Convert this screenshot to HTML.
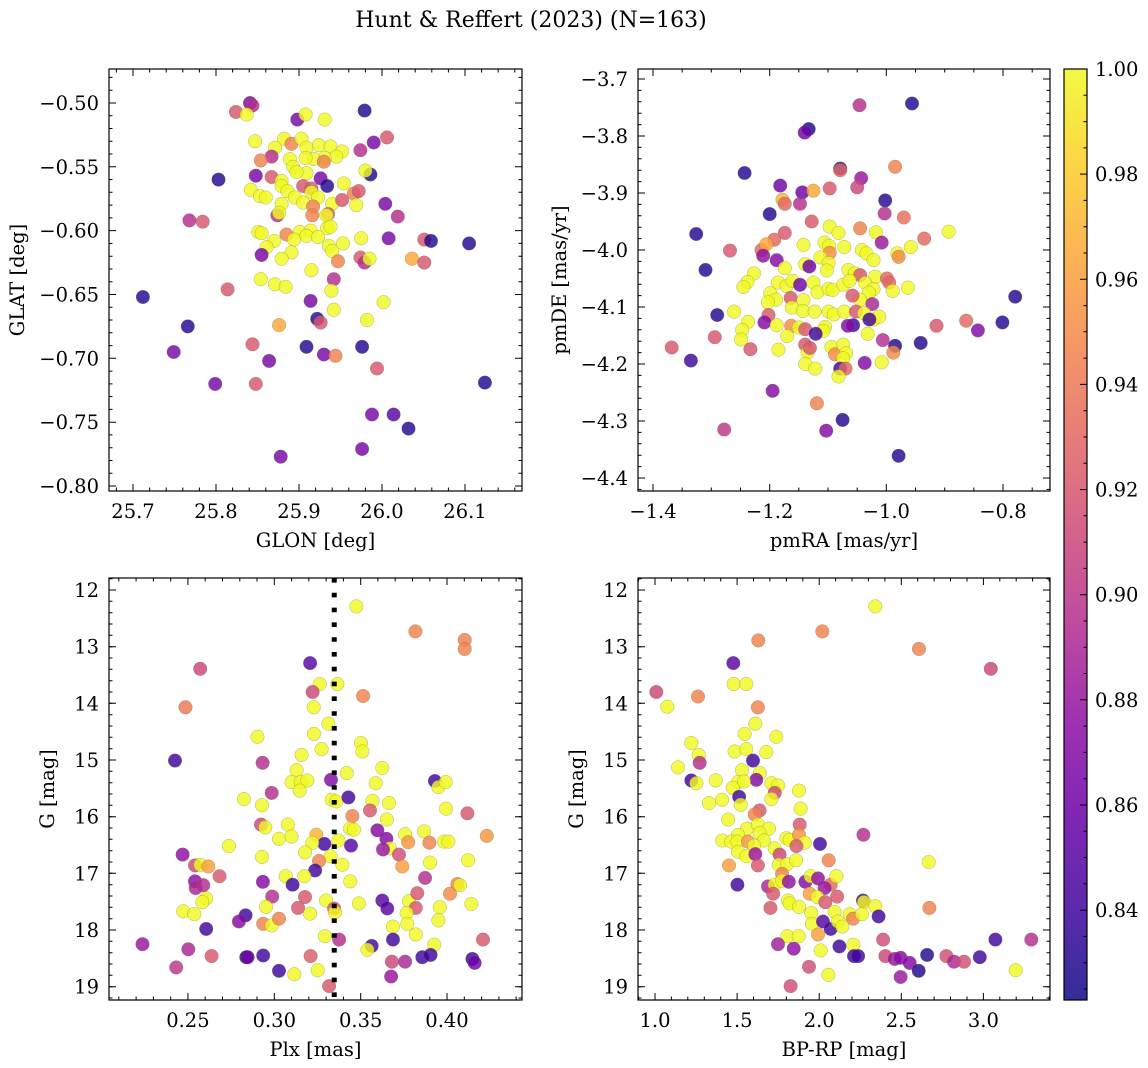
<!DOCTYPE html>
<html><head><meta charset="utf-8"><style>
html,body{margin:0;padding:0;background:#fff;}
svg{display:block;font-family:"DejaVu Serif","Liberation Serif",serif;}
</style></head><body>
<svg id="fig" width="1148" height="1068" viewBox="0 0 1148 1068" xmlns="http://www.w3.org/2000/svg">
<rect width="1148" height="1068" fill="#fff"/>
<text x="531" y="27" font-size="22" text-anchor="middle">Hunt &amp; Reffert (2023) (N=163)</text>
<defs><linearGradient id="plasma" x1="0" y1="1" x2="0" y2="0"></linearGradient></defs>
</svg>
<script>
// ---- Panel 1: GLON vs GLAT ----
const glon=[25.841,25.844,25.824,25.837,25.898,25.908,25.931,25.979,26.006,25.990,25.974,25.847,25.882,25.891,25.903,25.871,25.909,25.924,25.938,25.952,25.945,25.931,25.918,25.908,25.889,25.867,25.854,25.893,25.909,25.897,25.930,25.986,25.980,25.803,25.848,25.867,25.879,25.926,25.934,25.954,25.905,25.915,25.842,25.879,25.886,25.853,25.860,25.895,25.915,25.923,25.905,25.879,25.917,25.940,25.952,25.966,25.972,25.969,26.004,26.019,25.874,25.876,25.916,25.935,25.933,25.934,25.938,25.768,25.784,25.851,25.855,25.885,25.901,25.914,25.909,25.923,25.894,25.870,25.861,25.891,25.879,25.855,25.936,25.940,25.953,25.975,26.008,26.051,26.059,26.105,25.947,25.974,25.979,25.985,26.036,26.051,25.915,25.942,25.854,25.871,25.884,25.939,25.814,25.712,25.914,26.002,25.942,25.922,25.926,25.876,25.982,25.766,25.844,25.909,25.930,25.944,25.976,25.749,25.864,25.994,25.799,25.848,26.124,25.988,26.014,26.032,25.976,25.878];
const glat=[-0.500,-0.502,-0.507,-0.509,-0.513,-0.509,-0.513,-0.506,-0.527,-0.531,-0.537,-0.530,-0.528,-0.532,-0.528,-0.535,-0.535,-0.533,-0.534,-0.538,-0.542,-0.543,-0.544,-0.543,-0.544,-0.542,-0.545,-0.550,-0.555,-0.554,-0.546,-0.556,-0.553,-0.560,-0.557,-0.558,-0.561,-0.559,-0.565,-0.563,-0.565,-0.567,-0.568,-0.565,-0.569,-0.573,-0.574,-0.574,-0.570,-0.574,-0.578,-0.579,-0.581,-0.579,-0.576,-0.571,-0.569,-0.580,-0.579,-0.589,-0.588,-0.586,-0.588,-0.587,-0.588,-0.598,-0.597,-0.592,-0.593,-0.601,-0.602,-0.603,-0.601,-0.600,-0.604,-0.605,-0.607,-0.608,-0.613,-0.617,-0.622,-0.619,-0.612,-0.616,-0.610,-0.606,-0.606,-0.607,-0.608,-0.610,-0.624,-0.621,-0.625,-0.622,-0.622,-0.625,-0.631,-0.638,-0.638,-0.642,-0.644,-0.647,-0.646,-0.652,-0.655,-0.656,-0.662,-0.669,-0.672,-0.674,-0.670,-0.675,-0.689,-0.691,-0.697,-0.698,-0.691,-0.695,-0.702,-0.708,-0.720,-0.720,-0.719,-0.744,-0.744,-0.755,-0.771,-0.777];
const prob1=[.865,.895,.92,1,.865,1,1,.83,.92,.865,.895,1,1,.945,1,1,1,1,1,1,1,1,1,1,1,.895,.945,1,1,1,.945,.83,1,.83,.865,.92,1,.865,.83,1,.92,.92,1,1,1,1,1,1,1,1,1,1,.945,1,.92,.945,.92,1,.865,.895,.895,1,.945,.92,1,1,1,.895,.92,1,1,.945,1,1,1,1,1,1,1,1,1,.865,1,1,1,1,.865,.92,.83,.83,.945,.92,.895,1,.965,.92,1,.895,1,1,1,1,.92,.83,.865,1,1,.83,.92,.965,1,.83,.92,.83,.865,.945,.83,.865,.865,.92,.865,.92,.83,.865,.85,.83,.865,.865];

// ---- Panel 2: pmRA vs pmDE ----
const pmra=[-1.046,-0.956,-1.133,-1.140,-1.243,-1.079,-1.079,-0.985,-1.043,-1.182,-1.144,-1.125,-1.097,-1.050,-1.178,-1.174,-1.148,-1.002,-1.003,-1.200,-1.128,-0.970,-1.326,-1.097,-1.082,-1.045,-1.018,-1.008,-0.893,-0.935,-1.174,-1.192,-1.268,-1.214,-1.206,-1.211,-1.188,-1.142,-1.106,-1.098,-1.072,-1.097,-1.042,-1.034,-1.022,-0.981,-0.979,-0.958,-1.310,-1.227,-1.238,-1.245,-1.174,-1.139,-1.132,-1.113,-1.099,-1.102,-1.065,-1.054,-1.045,-1.019,-0.999,-0.995,-0.989,-0.963,-1.199,-1.186,-1.189,-1.203,-1.171,-1.161,-1.148,-1.125,-1.118,-1.099,-1.092,-1.074,-1.063,-1.036,-1.022,-1.030,-1.045,-1.058,-1.024,-1.164,-1.142,-1.162,-1.143,-1.123,-1.099,-1.090,-1.072,-1.052,-1.038,-1.022,-1.012,-1.029,-1.261,-1.290,-1.202,-1.237,-1.209,-1.188,-1.163,-1.150,-1.139,-1.105,-1.108,-1.057,-1.066,-1.247,-1.249,-1.294,-1.233,-1.185,-1.170,-1.121,-1.139,-1.135,-1.131,-1.139,-1.122,-1.094,-1.088,-1.074,-1.069,-1.074,-1.079,-1.070,-1.082,-1.032,-1.006,-0.985,-0.988,-1.037,-1.008,-0.941,-0.914,-0.863,-0.843,-0.801,-0.779,-1.368,-1.335,-1.195,-1.119,-1.075,-1.103,-1.278,-0.979];
const pmde=[-3.746,-3.743,-3.788,-3.794,-3.865,-3.857,-3.860,-3.854,-3.874,-3.887,-3.899,-3.896,-3.892,-3.890,-3.912,-3.919,-3.919,-3.913,-3.936,-3.937,-3.950,-3.943,-3.972,-3.959,-3.970,-3.962,-3.969,-3.987,-3.968,-3.980,-3.970,-3.982,-4.001,-4.000,-3.990,-4.010,-4.018,-3.991,-3.987,-3.993,-3.995,-4.005,-4.000,-4.006,-4.018,-4.006,-4.012,-3.995,-4.035,-4.041,-4.056,-4.065,-4.032,-4.025,-4.029,-4.013,-4.023,-4.036,-4.035,-4.041,-4.044,-4.047,-4.050,-4.057,-4.072,-4.066,-4.076,-4.057,-4.087,-4.092,-4.063,-4.054,-4.061,-4.057,-4.074,-4.068,-4.070,-4.061,-4.054,-4.058,-4.069,-4.075,-4.087,-4.080,-4.095,-4.084,-4.088,-4.101,-4.107,-4.108,-4.108,-4.113,-4.108,-4.108,-4.111,-4.122,-4.117,-4.122,-4.108,-4.114,-4.114,-4.126,-4.127,-4.132,-4.133,-4.136,-4.139,-4.135,-4.142,-4.132,-4.133,-4.140,-4.157,-4.153,-4.174,-4.175,-4.151,-4.147,-4.166,-4.180,-4.172,-4.200,-4.208,-4.170,-4.183,-4.166,-4.181,-4.190,-4.208,-4.208,-4.222,-4.147,-4.158,-4.168,-4.180,-4.198,-4.197,-4.163,-4.133,-4.124,-4.141,-4.127,-4.082,-4.171,-4.194,-4.247,-4.269,-4.298,-4.317,-4.315,-4.361];
const prob2=[.895,.83,.83,.86,.83,.83,.93,.945,.88,.86,.86,.965,.92,.91,.97,.93,.895,.83,.895,.83,.92,.935,.83,1,1,.945,1,.88,1,.93,.92,.93,.92,.93,.965,.875,.87,1,1,1,1,.95,1,1,1,1,.95,1,.83,1,1,1,1,1,.86,1,1,1,1,1,.92,1,.93,.93,1,1,1,1,1,1,1,1,.86,1,1,1,1,1,1,1,1,1,1,.92,.89,.92,1,1,1,1,1,1,1,.92,1,1,1,.84,1,.83,.92,1,.87,1,.95,1,.92,1,1,.84,.87,1,1,.92,.92,1,1,.84,.92,1,.92,1,1,1,.95,1,1,1,.84,.93,1,1,.895,.83,.95,.87,1,.83,.92,.93,.87,.83,.83,.92,.84,.87,.945,.83,.87,.9,.83];

// ---- Panel 3: Plx vs G ----
const plxRef=0.3347;
const plx=[0.3475,0.3817,0.4102,0.4102,0.3207,0.2571,0.3263,0.3365,0.3222,0.3514,0.2486,0.3228,0.3313,0.2902,0.3230,0.3502,0.3510,0.3274,0.3158,0.2425,0.2932,0.3129,0.3625,0.3419,0.3100,0.3153,0.3191,0.3147,0.3328,0.3930,0.3950,0.3992,0.3587,0.2985,0.2824,0.2929,0.3332,0.3359,0.3429,0.3568,0.3664,0.3554,0.3994,0.4118,0.3452,0.3651,0.2923,0.2948,0.3079,0.3027,0.3100,0.3243,0.3438,0.3461,0.3597,0.3649,0.3757,0.3867,0.3775,0.3898,0.3983,0.4008,0.4230,0.3371,0.3290,0.3220,0.3444,0.3670,0.3629,0.2737,0.2469,0.3178,0.3722,0.3326,0.2929,0.3259,0.3394,0.3741,0.3902,0.4122,0.2541,0.2573,0.2618,0.2683,0.3236,0.3066,0.3174,0.3106,0.2934,0.2541,0.2545,0.2589,0.3440,0.3873,0.4060,0.4075,0.4017,0.2606,0.2583,0.2988,0.3178,0.3299,0.3490,0.3625,0.3654,0.3780,0.3828,0.3819,0.3766,0.3958,0.4141,0.2473,0.2537,0.2952,0.3137,0.3207,0.3346,0.3351,0.2834,0.2795,0.2936,0.2985,0.3027,0.3687,0.3770,0.3950,0.2606,0.3293,0.3375,0.3687,0.3819,0.3925,0.4208,0.2237,0.2502,0.2637,0.2838,0.2846,0.2936,0.3210,0.3564,0.3539,0.3857,0.3905,0.3681,0.3757,0.4147,0.4160,0.2432,0.3027,0.3116,0.3251,0.3676,0.3317];
const gmag3=[12.29,12.73,12.88,13.04,13.29,13.39,13.66,13.66,13.80,13.87,14.07,14.07,14.36,14.59,14.54,14.70,14.85,14.81,14.91,15.01,15.05,15.18,15.14,15.23,15.39,15.39,15.36,15.54,15.35,15.37,15.48,15.39,15.41,15.58,15.69,15.80,15.70,15.73,15.66,15.72,15.76,15.89,15.86,15.94,15.99,16.05,16.14,16.19,16.14,16.39,16.35,16.32,16.21,16.23,16.24,16.39,16.31,16.26,16.45,16.46,16.44,16.44,16.34,16.42,16.48,16.46,16.51,16.56,16.58,16.52,16.67,16.63,16.67,16.70,16.71,16.78,16.85,16.88,16.81,16.77,16.86,16.85,16.88,17.05,16.95,17.05,17.05,17.20,17.15,17.14,17.26,17.21,17.14,17.08,17.19,17.21,17.36,17.44,17.51,17.41,17.42,17.48,17.53,17.48,17.62,17.49,17.35,17.61,17.70,17.60,17.54,17.67,17.72,17.59,17.61,17.71,17.62,17.69,17.74,17.85,17.89,17.92,17.80,17.94,17.89,17.83,17.98,18.11,18.17,18.17,18.08,18.26,18.17,18.25,18.34,18.46,18.48,18.48,18.45,18.46,18.28,18.35,18.48,18.44,18.56,18.56,18.51,18.58,18.66,18.72,18.78,18.71,18.82,18.99];
const prob3=[1,.945,.945,.945,.85,.91,1,1,.91,.945,.94,1,1,1,1,1,1,1,1,.84,.895,1,1,1,1,1,1,1,.87,.84,1,1,1,.895,1,1,1,1,.84,1,1,.92,1,.92,.945,1,.91,1,1,1,1,.97,1,1,.87,.87,1,1,.955,.945,1,1,.955,1,.84,1,.85,1,.88,1,.875,1,.915,1,1,.945,1,.96,1,1,.91,1,.96,.92,.84,1,1,.84,.87,.875,.89,.895,1,.895,.945,1,.95,1,1,.895,.92,1,1,.85,.85,1,.92,.92,1,1,1,1,1,1,.92,1,.92,1,.84,.87,.945,1,.945,1,1,1,.84,1,.895,.84,1,1,.92,.88,.89,.92,.83,.86,.84,.925,.84,1,.84,.84,.91,.89,.84,.86,.9,.84,1,1,.88,.92];

// ---- Panel 4: BP-RP vs G ----
const bprp=[2.342,2.019,1.629,2.608,1.477,3.045,1.479,1.556,1.008,1.262,1.075,1.627,1.611,1.546,1.739,1.221,1.485,1.556,1.678,1.266,1.272,1.597,1.140,1.530,1.638,1.221,1.252,1.370,1.617,1.506,1.542,1.473,1.709,1.750,1.729,1.877,1.512,1.408,1.329,1.522,1.709,1.887,1.637,1.607,1.445,1.881,1.560,1.627,1.694,1.637,1.506,1.410,1.465,1.502,1.566,1.664,1.604,1.800,1.820,1.877,1.912,1.861,2.005,2.269,1.506,1.556,1.611,1.729,1.759,1.753,1.804,1.859,2.058,2.667,1.451,1.627,1.774,1.502,1.688,1.729,1.774,1.815,1.916,1.948,1.993,2.070,2.105,2.033,1.719,1.942,1.989,2.109,2.037,1.810,1.820,1.877,2.267,2.273,2.342,1.703,1.952,2.094,2.186,2.206,2.261,2.362,2.671,1.956,2.023,2.070,2.114,2.141,1.806,1.875,1.993,1.749,1.845,2.009,2.123,2.208,2.212,2.237,2.389,2.403,2.460,2.496,2.551,2.606,2.657,2.775,2.821,2.882,2.978,3.073,3.292,3.197,2.496,1.938,2.056,1.826];
const gmag4=[12.29,12.73,12.89,13.04,13.29,13.39,13.66,13.66,13.80,13.88,14.06,14.07,14.36,14.54,14.59,14.70,14.85,14.81,14.86,14.91,15.05,15.01,15.13,15.18,15.23,15.36,15.41,15.36,15.35,15.39,15.38,15.49,15.41,15.45,15.58,15.54,15.65,15.70,15.76,15.79,15.69,15.86,15.89,15.96,16.05,16.14,16.21,16.14,16.21,16.29,16.32,16.42,16.44,16.44,16.44,16.42,16.51,16.38,16.41,16.32,16.46,16.52,16.48,16.32,16.62,16.70,16.66,16.56,16.67,16.85,16.84,16.77,16.77,16.80,16.86,16.86,17.01,17.20,17.23,17.20,17.13,17.15,17.15,17.05,17.09,17.20,17.05,17.26,17.36,17.36,17.42,17.41,17.51,17.48,17.53,17.59,17.48,17.51,17.58,17.61,17.70,17.68,17.72,17.80,17.72,17.76,17.61,17.89,17.85,17.98,17.85,17.94,18.11,18.11,18.08,18.25,18.33,18.36,18.29,18.26,18.46,18.46,18.17,18.46,18.51,18.49,18.58,18.72,18.44,18.46,18.56,18.56,18.48,18.17,18.17,18.71,18.83,18.65,18.79,18.99];
const prob4=[1,.945,.945,.945,.85,.91,1,1,.91,.945,1,.945,1,1,1,1,1,1,1,1,.895,.84,1,1,1,.84,1,1,.87,1,1,1,1,1,.91,1,.84,1,1,1,1,1,.92,.945,1,.92,1,1,1,1,1,1,1,1,.955,1,1,1,1,.955,1,.92,.84,.895,1,1,.88,1,.91,1,1,1,.945,1,.96,.92,.945,.84,.89,1,1,.875,.87,1,.875,.93,1,.88,.92,.96,1,.92,.92,1,1,1,.84,1,1,.92,1,1,1,.945,1,.84,.945,1,.85,.84,1,1,1,1,.96,.885,.875,1,.84,1,.84,.84,.915,.91,.88,.87,.87,.83,.83,.915,.89,.915,.84,.84,.895,1,.88,.915,1,.915];

// colorbar
const cbMin=0.8229, cbMax=1.0;
const cbTicks=[0.84,0.86,0.88,0.90,0.92,0.94,0.96,0.98,1.00];

const plasmaStops=[[13,8,135],[65,4,157],[106,0,168],[143,13,164],[177,42,144],[204,71,120],[225,100,98],[242,132,75],[252,166,54],[252,206,37],[240,249,33]];
function plasma(t){t=Math.max(0,Math.min(1,t));const f=t*10,i=Math.min(9,Math.floor(f)),u=f-i;const a=plasmaStops[i],b=plasmaStops[i+1];return 'rgb('+a.map((v,k)=>Math.round(v+(b[k]-v)*u)).join(',')+')';}
function pcol(p){return plasma((p-cbMin)/(cbMax-cbMin));}

const NS='http://www.w3.org/2000/svg';
const svg=document.getElementById('fig');
const FS=19.5;
function mk(tag,attrs,parent){const e=document.createElementNS(NS,tag);for(const k in attrs)e.setAttribute(k,attrs[k]);(parent||svg).appendChild(e);return e;}

function fmt(v,d){let s=v.toFixed(d);return s.replace('-','\u2212');}

function panel(o){
  const g=mk('g',{});
  
  
  const sx=v=>o.x0+(v-o.xmin)/(o.xmax-o.xmin)*(o.x1-o.x0);
  const sy=v=>o.y1-(v-o.ymin)/(o.ymax-o.ymin)*(o.y1-o.y0);
  const pg=mk('g',{},g);
  
  
  for(let i=0;i<o.xs.length;i++){
    const c=mk('circle',{cx:sx(o.xs[i]).toFixed(1),cy:sy(o.ys[i]).toFixed(1),r:6.8,fill:pcol(o.ps[i]),'fill-opacity':0.82,stroke:'#6e6e40','stroke-opacity':0.5,'stroke-width':0.5},pg);
    
    
  }
  if(o.vline!==undefined){
    const l=mk('line',{x1:sx(o.vline),x2:sx(o.vline),y1:o.y0,y2:o.y1,stroke:'#000','stroke-width':5,'stroke-dasharray':'4.6 10.2'},g);
    
    
  }
  const fr=mk('rect',{x:o.x0,y:o.y0,width:o.x1-o.x0,height:o.y1-o.y0,fill:'none',stroke:'#000','stroke-width':1.2},g);
  
  
  let tk='';
  const eps=1e-9;
  for(let v=Math.ceil(o.xmin/o.xminor-eps)*o.xminor;v<=o.xmax+eps;v+=o.xminor){const x=sx(v).toFixed(1);tk+=`M${x} ${o.y1}v-3.5M${x} ${o.y0}v3.5`;}
  for(let v=Math.ceil(o.ymin/o.yminor-eps)*o.yminor;v<=o.ymax+eps;v+=o.yminor){const y=sy(v).toFixed(1);tk+=`M${o.x0} ${y}h3.5M${o.x1} ${y}h-3.5`;}
  o.xticks.forEach(v=>{const x=sx(v).toFixed(1);tk+=`M${x} ${o.y1}v-7M${x} ${o.y0}v7`;
    const t=mk('text',{x:x,y:o.y1+27,'font-size':FS,'text-anchor':'middle'},g);t.textContent=fmt(v,o.xd);
    
    });
  o.yticks.forEach(v=>{const y=sy(v);tk+=`M${o.x0} ${y.toFixed(1)}h7M${o.x1} ${y.toFixed(1)}h-7`;
    const t=mk('text',{x:o.x0-10,y:(y+7).toFixed(1),'font-size':FS,'text-anchor':'end'},g);t.textContent=fmt(v,o.yd);
    
    });
  const tp=mk('path',{d:tk,stroke:'#000','stroke-width':1,fill:'none'},g);
  
  
  const xl=mk('text',{x:(o.x0+o.x1)/2,y:o.y1+56,'font-size':FS,'text-anchor':'middle'},g);xl.textContent=o.xlabel;
  
  
  const yl=mk('text',{x:0,y:0,'font-size':FS,'text-anchor':'middle',transform:`translate(${o.ylx},${(o.y0+o.y1)/2}) rotate(-90)`},g);yl.textContent=o.ylabel;
  
  
}

panel({name:'glon-glat-panel',x0:109,x1:522,y0:69,y1:491,xmin:25.6711,xmax:26.1687,ymin:-0.8039,ymax:-0.4734,xs:glon,ys:glat,ps:prob1,xticks:[25.7,25.8,25.9,26.0,26.1],xd:1,yticks:[-0.80,-0.75,-0.70,-0.65,-0.60,-0.55,-0.50],yd:2,xminor:0.02,yminor:0.01,xlabel:'GLON [deg]',ylabel:'GLAT [deg]',ylx:24});
panel({name:'pm-panel',x0:638,x1:1050,y0:69,y1:491,xmin:-1.4257,xmax:-0.7194,ymin:-4.4228,ymax:-3.6825,xs:pmra,ys:pmde,ps:prob2,xticks:[-1.4,-1.2,-1.0,-0.8],xd:1,yticks:[-4.4,-4.3,-4.2,-4.1,-4.0,-3.9,-3.8,-3.7],yd:1,xminor:0.05,yminor:0.02,xlabel:'pmRA [mas/yr]',ylabel:'pmDE [mas/yr]',ylx:566});
panel({name:'plx-g-panel',x0:109,x1:522,y0:578,y1:1000,xmin:0.2043,xmax:0.4434,ymin:-19.235,ymax:-11.788,xs:plx,ys:gmag3.map(v=>-v),ps:prob3,xticks:[0.25,0.30,0.35,0.40],xd:2,yticks:[],yd:0,xminor:0.01,yminor:0.2,xlabel:'Plx [mas]',ylabel:'G [mag]',ylx:54,vline:plxRef});
panel({name:'cmd-panel',x0:638,x1:1050,y0:578,y1:1000,xmin:0.8965,xmax:3.4057,ymin:-19.235,ymax:-11.788,xs:bprp,ys:gmag4.map(v=>-v),ps:prob4,xticks:[1.0,1.5,2.0,2.5,3.0],xd:1,yticks:[],yd:0,xminor:0.1,yminor:0.2,xlabel:'BP-RP [mag]',ylabel:'G [mag]',ylx:583});

// G magnitude tick labels (inverted axis)
const gTicks=[12,13,14,15,16,17,18,19];
[[109,578,1000],[638,578,1000]].forEach(([x0,y0,y1])=>{
  let d='';
  gTicks.forEach(v=>{const y=y1-(-v+19.235)/(19.235-11.788)*(y1-y0);d+=`M${x0} ${y.toFixed(1)}h7M${x0+(x0===109?413:412)} ${y.toFixed(1)}h-7`;
    const t=mk('text',{x:x0-10,y:(y+7).toFixed(1),'font-size':FS,'text-anchor':'end'});t.textContent=String(v);
    
    });
  const p=mk('path',{d:d,stroke:'#000','stroke-width':1});
  
  
});

// colorbar
const grad=document.getElementById('plasma');
for(let i=0;i<=10;i++){mk('stop',{offset:(i/10),'stop-color':plasma(i/10),'stop-opacity':0.85},grad);}
const cb=mk('rect',{x:1064,y:69,width:23,height:931,fill:'url(#plasma)',stroke:'#000','stroke-width':1.2});


const cy=v=>1000-(v-cbMin)/(cbMax-cbMin)*931;
let cd='';
for(let v=0.825;v<=1.0001;v+=0.005){cd+=`M1087 ${cy(v).toFixed(1)}h-3.5`;}
cbTicks.forEach(v=>{const y=cy(v);cd+=`M1087 ${y.toFixed(1)}h-7`;
  const t=mk('text',{x:1095,y:(y+7).toFixed(1),'font-size':FS});t.textContent=v.toFixed(2);
  
  });
const cp=mk('path',{d:cd,stroke:'#000','stroke-width':1});


</script>
</body></html>
